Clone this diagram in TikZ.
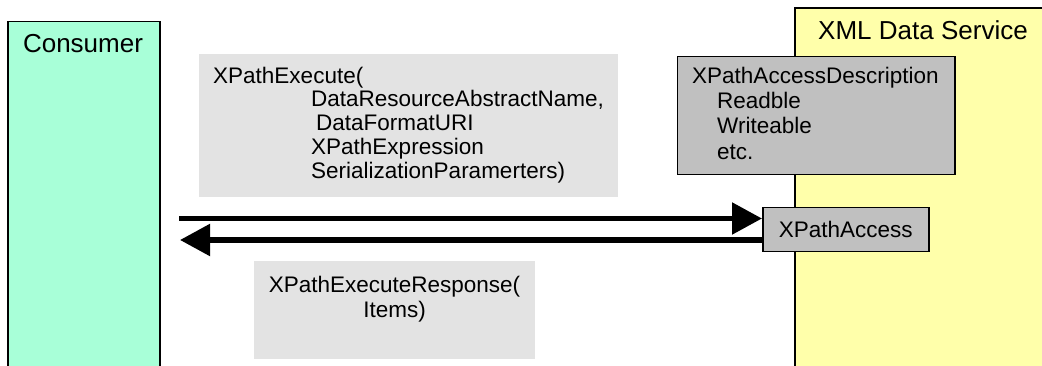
\documentclass[tikz,border=0pt]{standalone}
\usepackage{fontspec}
\setmainfont{Liberation Sans}
\usetikzlibrary{arrows.meta}
\definecolor{consfill}{RGB}{168,255,216}
\definecolor{svcfill}{RGB}{255,255,170}
\definecolor{msgfill}{RGB}{227,227,227}
\definecolor{compfill}{RGB}{192,192,192}
\begin{document}
\begin{tikzpicture}[x=1pt,y=-1pt,
  frame/.style={draw=black, line width=1.5pt, inner sep=0pt, anchor=north west},
  msgbox/.style={fill=msgfill, draw=none, inner sep=0pt, anchor=north west},
  compbox/.style={fill=compfill, draw=black, line width=1.5pt, inner sep=0pt, anchor=north west},
  titletxt/.style={font=\fontsize{26}{30}\selectfont, inner sep=0pt, anchor=base},
  txt/.style={font=\fontsize{22.5}{23.75}\selectfont, inner sep=0pt, align=left},
  arr/.style={line width=5.4pt, -{Triangle[length=30pt,width=31pt]}}
]
\clip (0,0) rectangle (1042,366);
% components
\node[frame, fill=consfill, minimum width=152, minimum height=360] (consumer) at (7,21) {};
\node[titletxt] (consumerlbl) at (83,53) {Consumer};
\node[frame, fill=svcfill, minimum width=258, minimum height=358] (xds) at (794,7.5) {};
\node[titletxt] (xdslbl) at (923,40) {XML Data Service};
% messages
\node[msgbox, minimum width=419, minimum height=143] (req) at (199,54) {};
\node[txt, anchor=north west] (reqtxt) at (213,65) {\rule{0pt}{18pt}XPathExecute(\\
\hspace*{98pt}DataResourceAbstractName,\\
\hspace*{103pt}DataFormatURI\\
\hspace*{98pt}XPathExpression\\
\hspace*{98pt}SerializationParamerters)};
\node[msgbox, minimum width=281, minimum height=98] (resp) at (254,261) {};
\node[txt, align=center, anchor=north, font=\fontsize{22.5}{25}\selectfont] (resptxt) at (394.5,274) {\rule{0pt}{18pt}XPathExecuteResponse(\\Items)};
% description
\node[compbox, minimum width=277.5, minimum height=118] (desc) at (676.5,56) {};
\node[txt, anchor=north west, font=\fontsize{22.5}{25.3}\selectfont] (desctxt) at (692,65) {\rule{0pt}{18pt}XPathAccessDescription\\
\hspace*{25pt}Readble\\
\hspace*{25pt}Writeable\\
\hspace*{25pt}etc.};
% access component and messages
\node[compbox, minimum width=166, minimum height=44, font=\fontsize{22.5}{25}\selectfont, text height=16pt, text depth=0pt] (acc) at (762,207) {XPathAccess};
\coordinate (reqstart) at (179,218.5);
\coordinate (respend) at (180,240);
\draw[arr] (reqstart) -- (acc.west |- reqstart);
\draw[arr] (acc.west |- respend) -- (respend);
\end{tikzpicture}
\end{document}
